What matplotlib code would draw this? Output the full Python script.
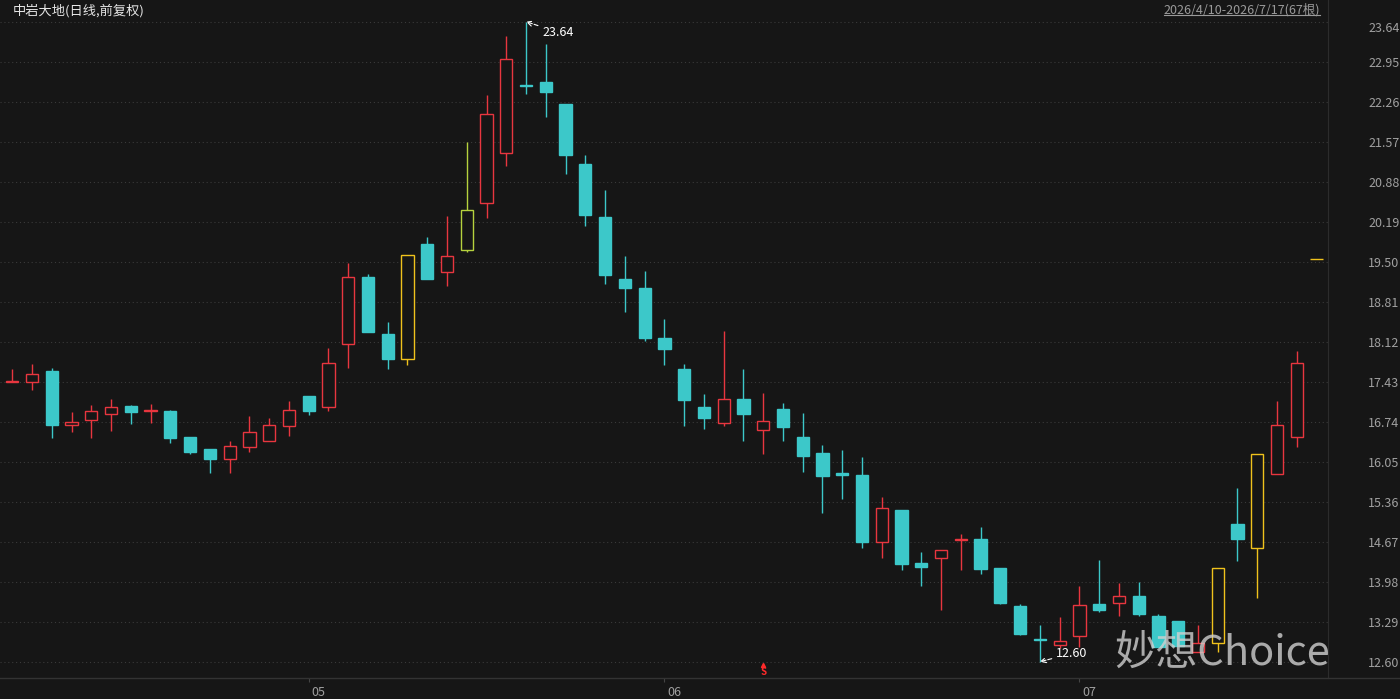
import matplotlib
matplotlib.use("Agg")
import matplotlib.pyplot as plt
from matplotlib.lines import Line2D
import matplotlib.transforms as mtransforms

plt.rcParams['font.family'] = ['Noto Sans CJK SC', 'DejaVu Sans']

# daily bars, 2026/4/10 - 2026/7/17
opens = [17.42, 17.43, 17.62, 16.69, 16.77, 16.88, 17.01, 16.93, 16.92, 16.47,
         16.27, 16.10, 16.31, 16.41, 16.67, 17.18, 16.99, 18.08, 19.23, 18.25,
         17.83, 19.80, 19.33, 19.71, 20.51, 21.37, 22.55, 22.60, 22.22, 21.19,
         20.27, 19.20, 19.04, 18.18, 17.65, 17.00, 16.71, 17.13, 16.60, 16.96,
         16.48, 16.20, 15.85, 15.82, 14.66, 15.22, 14.30, 14.39, 14.70, 14.71,
         14.22, 13.56, 13.00, 12.89, 13.04, 13.60, 13.62, 13.73, 13.38, 13.30,
         12.76, 12.92, 14.98, 14.57, 15.84, 16.47, 19.54]
highs = [17.65, 17.73, 17.66, 16.91, 17.02, 17.14, 17.02, 17.04, 16.94, 16.47,
         16.27, 16.41, 16.83, 16.81, 17.10, 17.18, 18.01, 19.48, 19.28, 18.46,
         19.61, 19.92, 20.28, 21.56, 22.38, 23.40, 23.64, 23.25, 22.22, 21.34,
         20.74, 19.60, 19.34, 18.51, 17.74, 17.22, 18.31, 17.65, 17.23, 17.07,
         16.89, 16.34, 16.25, 16.13, 15.44, 15.22, 14.49, 14.52, 14.80, 14.92,
         14.22, 13.59, 13.23, 13.37, 13.91, 14.35, 13.96, 13.97, 13.43, 13.30,
         13.23, 14.21, 15.59, 16.19, 17.10, 17.96, 19.54]
lows = [17.42, 17.28, 16.46, 16.56, 16.46, 16.58, 16.70, 16.72, 16.38, 16.18,
        15.86, 15.85, 16.22, 16.41, 16.50, 16.86, 16.93, 17.66, 18.28, 17.65,
        17.71, 19.20, 19.08, 19.67, 20.25, 21.15, 22.39, 22.00, 21.01, 20.12,
        19.12, 18.64, 18.14, 17.71, 16.67, 16.61, 16.67, 16.40, 16.18, 16.40,
        15.88, 15.17, 15.41, 14.57, 14.39, 14.19, 13.91, 13.49, 14.18, 14.11,
        13.59, 13.06, 12.60, 12.83, 12.86, 13.45, 13.39, 13.39, 12.86, 12.87,
        12.76, 12.76, 14.33, 13.70, 15.84, 16.31, 19.54]
closes = [17.44, 17.56, 16.69, 16.74, 16.92, 16.99, 16.91, 16.95, 16.46, 16.22,
          16.10, 16.32, 16.56, 16.68, 16.95, 16.93, 17.76, 19.23, 18.29, 17.83,
          19.61, 19.20, 19.60, 20.40, 22.04, 23.00, 22.53, 22.43, 21.34, 20.31,
          19.27, 19.05, 18.19, 18.00, 17.11, 16.81, 17.14, 16.88, 16.75, 16.65,
          16.15, 15.80, 15.82, 14.66, 15.25, 14.29, 14.23, 14.52, 14.72, 14.20,
          13.62, 13.07, 12.98, 12.95, 13.57, 13.49, 13.73, 13.42, 12.86, 12.87,
          12.92, 14.21, 14.72, 16.19, 16.69, 17.76, 19.54]

month_pos = [15, 33, 54]
month_labels = ['05', '06', '07']
signal_pos = [38]
price_ticks = [12.60, 13.29, 13.98, 14.67, 15.36, 16.05, 16.74, 17.43, 18.12,
               18.81, 19.50, 20.19, 20.88, 21.57, 22.26, 22.95, 23.64]

bg = '#161616'
red = '#e8363f'
cyan = '#3cc8c9'
yellow = '#f0c21c'
olive = '#b6d23e'

fig = plt.figure(figsize=(14, 6.99), dpi=100, facecolor=bg)
ax = fig.add_axes([0, 21 / 699, 1328 / 1400, 678 / 699])
ax.set_facecolor(bg)

w = 0.62
for i in range(len(opens)):
    o, h, l, c = opens[i], highs[i], lows[i], closes[i]
    hollow = True
    if c < o:
        col = cyan
        hollow = False
    else:
        col = red
    # limit-up days get the yellow/olive colour
    if i > 0:
        lim = round(closes[i - 1] * 1.1 + 1e-9, 2)
        if c >= lim - 0.005:
            col = yellow
        elif h >= lim - 0.005:
            col = olive
    top = max(o, c)
    bot = min(o, c)
    ax.vlines(i, top, h, color=col, lw=1, zorder=2)
    ax.vlines(i, l, bot, color=col, lw=1, zorder=2)
    ax.bar(i, max(top - bot, 0.012), bottom=bot, width=w,
           facecolor=bg if hollow else col, edgecolor=col, linewidth=1, zorder=3)

ax.set_xlim(-0.62, 66.58)
ax.set_ylim(12.319, 24.014)

ax.set_yticks(price_ticks)
ax.set_yticklabels(['%.2f' % p for p in price_ticks])
ax.yaxis.tick_right()
ax.tick_params(axis='y', length=0, pad=29, labelcolor='#a0a0a0', labelsize=9)
ax.get_yticklabels()[-1].set_va('top')
ax.grid(axis='y', color='#3a3a3a', linestyle=(0, (1, 2.5)), lw=0.8, zorder=0)

ax.set_xticks(month_pos)
ax.set_xticklabels(month_labels)
ax.tick_params(axis='x', length=3, color='#444444', labelcolor='#a0a0a0', labelsize=9, pad=3)
shift = mtransforms.ScaledTranslation(3 / 100, 0, fig.dpi_scale_trans)
for t in ax.get_xticklabels():
    t.set_ha('left')
    t.set_transform(t.get_transform() + shift)

for s in ['top', 'left', 'bottom']:
    ax.spines[s].set_visible(False)
ax.spines['right'].set_color('#2c2c2c')
fig.add_artist(Line2D([0, 1], [21 / 699, 21 / 699], color='#333333', lw=1))

# highest / lowest marks
hi = highs.index(max(highs))
lo = lows.index(min(lows))
ax.annotate('%.2f' % highs[hi], xy=(hi, highs[hi]), xytext=(11.5, -7.5),
            textcoords='offset points', color='white', fontsize=9, va='center', ha='left',
            arrowprops=dict(arrowstyle='->', color='white', lw=0.8, linestyle='--',
                            shrinkA=1, shrinkB=0))
ax.annotate('%.2f' % lows[lo], xy=(lo, lows[lo]), xytext=(11.5, 5.8),
            textcoords='offset points', color='white', fontsize=9, va='center', ha='left',
            arrowprops=dict(arrowstyle='->', color='white', lw=0.8, linestyle='--',
                            shrinkA=1, shrinkB=0))

trans = mtransforms.blended_transform_factory(ax.transData, ax.transAxes)
for k in signal_pos:
    ax.text(k, 0.002, 'S', transform=trans, color='#ff2a2a', fontsize=7,
            fontweight='bold', ha='center', va='bottom')
    ax.plot([k], [0.019], marker='^', ms=3, color='#ff2a2a', transform=trans)

fig.text(13 / 1400, 1 - 11 / 699, '中岩大地(日线,前复权)', color='#e6e6e6',
         fontsize=9.5, va='center', ha='left')
dt = fig.text(1320 / 1400, 1 - 10 / 699, '2026/4/10-2026/7/17(67根)', color='#9a9a9a',
              fontsize=9, va='center', ha='right')
fig.canvas.draw()
bb = dt.get_window_extent().transformed(fig.transFigure.inverted())
fig.add_artist(Line2D([bb.x0, bb.x1], [bb.y0 + 0.002, bb.y0 + 0.002], color='#9a9a9a', lw=0.8))

fig.text(1114 / 1400, 1 - 653 / 699, '妙想Choice', color='#d0d0d0', alpha=0.8,
         fontsize=30, va='center', ha='left', zorder=10)

fig.savefig('out.png', dpi=100, facecolor=bg)
